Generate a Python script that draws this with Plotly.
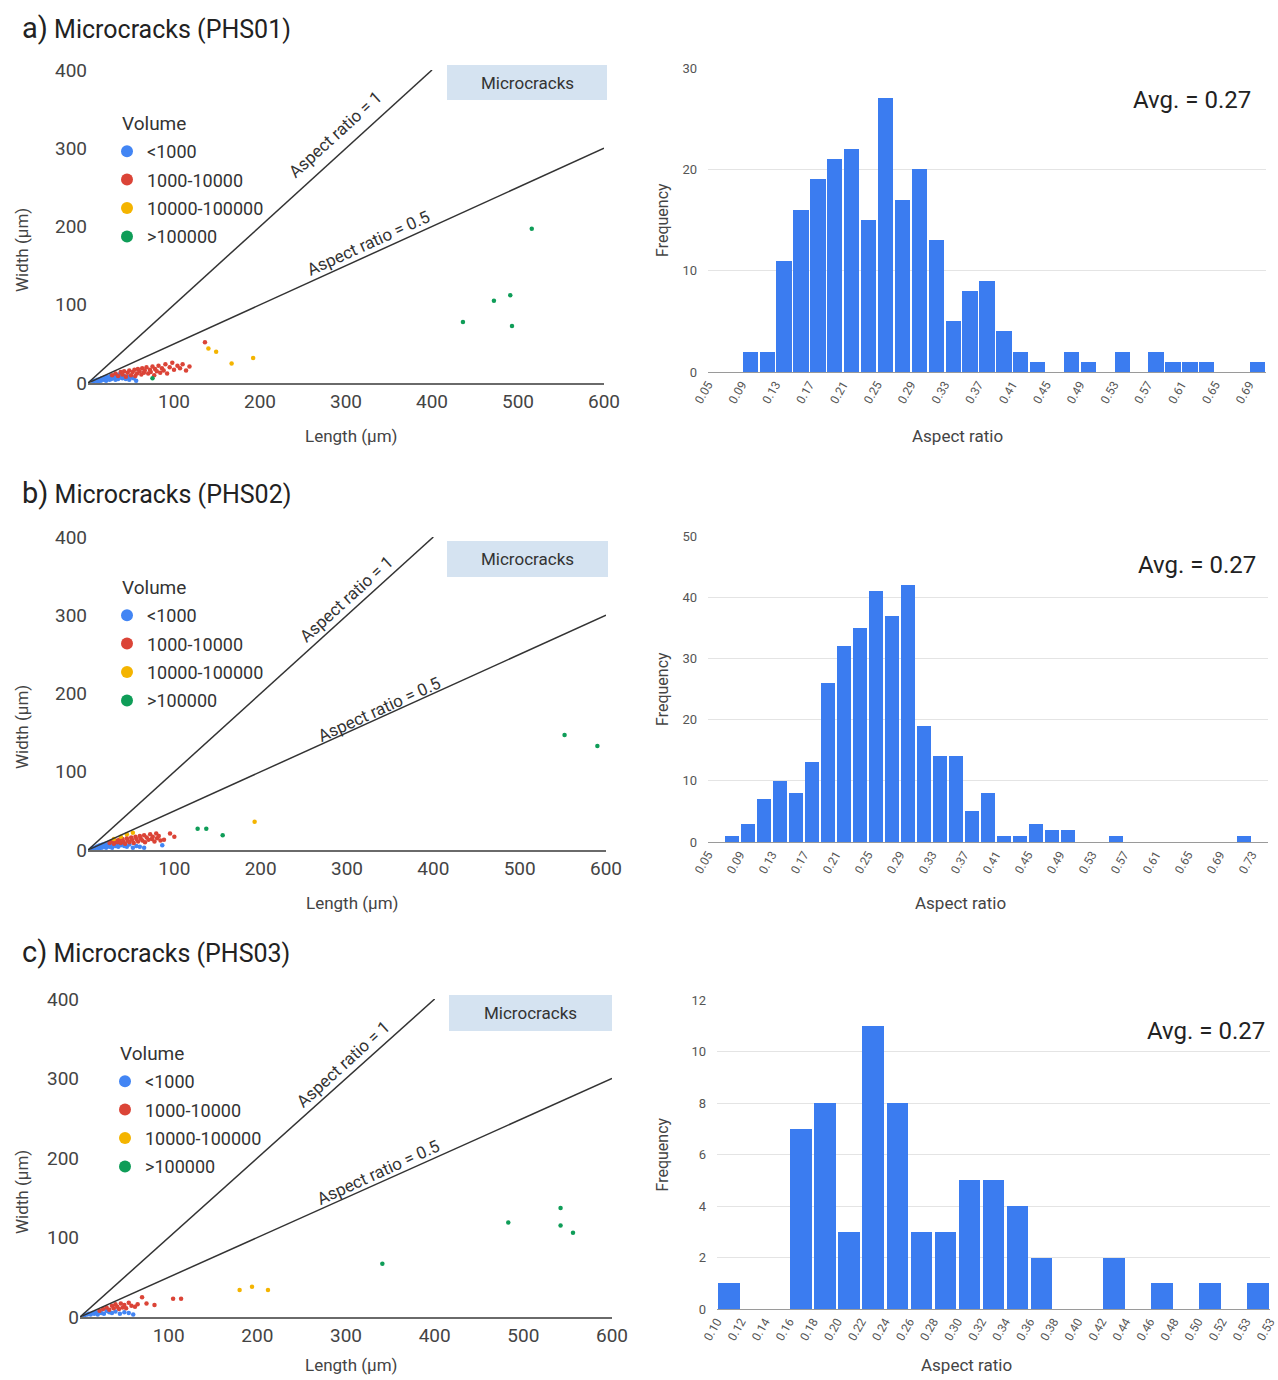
import plotly.graph_objects as go

W, H = 1278, 1380

# ---------------- data ----------------
VOLUME_CLASSES = ["<1000", "1000-10000", "10000-100000", ">100000"]
VOLUME_COLORS = ["#4285F4", "#DB4437", "#F4B400", "#0F9D58"]

# Panel a (PHS01) scatter: length (um), width (um)
A_blue_len = [6, 8, 10, 11, 12, 14, 15, 16, 18, 19, 20, 21, 22, 24, 25, 26, 27, 28, 30, 31, 32, 34, 35, 36, 38, 40, 42, 44, 46, 48, 50, 53, 56]
A_blue_wid = [2, 3, 3, 4, 2, 5, 3, 6, 4, 7, 5, 3, 8, 6, 4, 9, 5, 7, 6, 10, 4, 8, 5, 11, 7, 6, 9, 5, 8, 4, 7, 6, 3]
A_red_len = [28, 32, 35, 38, 40, 42, 44, 46, 48, 50, 52, 54, 55, 57, 58, 60, 62, 63, 65, 66, 68, 70, 72, 73, 75, 77, 78, 80, 82, 84, 86, 88, 90, 92, 95, 98, 100, 104, 107, 110, 114, 118, 136]
A_red_wid = [10, 12, 9, 14, 11, 15, 8, 13, 16, 10, 14, 17, 9, 12, 18, 15, 11, 19, 13, 16, 20, 12, 17, 14, 21, 10, 18, 15, 22, 13, 19, 16, 24, 12, 20, 26, 17, 22, 19, 24, 16, 21, 52]
A_yel_len = [140, 149, 167, 192]
A_yel_wid = [44, 40, 25, 32]
A_grn_len = [75, 436, 472, 491, 493, 516]
A_grn_wid = [6, 78, 105, 112, 73, 197]

# Panel b (PHS02) scatter
B_blue_len = [5, 7, 8, 10, 11, 12, 13, 14, 15, 16, 17, 18, 19, 20, 21, 22, 23, 24, 25, 26, 27, 28, 29, 30, 32, 33, 35, 36, 38, 40, 42, 45, 48, 52, 56, 60, 65, 86]
B_blue_wid = [2, 3, 2, 4, 3, 5, 2, 6, 4, 3, 7, 5, 4, 8, 3, 6, 9, 5, 4, 7, 10, 3, 6, 8, 5, 11, 4, 7, 6, 9, 5, 4, 7, 3, 5, 4, 3, 6]
B_red_len = [25, 28, 30, 32, 34, 36, 38, 40, 41, 43, 45, 46, 48, 50, 51, 53, 55, 56, 58, 60, 61, 63, 65, 66, 68, 70, 72, 74, 75, 77, 79, 80, 82, 84, 88, 95, 100]
B_red_wid = [9, 11, 8, 12, 10, 13, 9, 14, 11, 8, 15, 12, 10, 16, 13, 9, 17, 14, 11, 18, 15, 12, 19, 10, 16, 13, 20, 14, 17, 11, 21, 15, 18, 12, 13, 21, 17]
B_yel_len = [30, 38, 45, 52, 193]
B_yel_wid = [14, 17, 20, 22, 36]
B_grn_len = [127, 137, 156, 552, 590, 617]
B_grn_wid = [27, 27, 19, 147, 133, 193]

# Panel c (PHS03) scatter
C_blue_len = [5, 8, 10, 12, 14, 16, 18, 20, 22, 24, 27, 30, 33, 36, 40, 45, 50, 55, 60]
C_blue_wid = [2, 3, 4, 3, 5, 4, 6, 3, 7, 5, 4, 8, 6, 5, 7, 4, 6, 5, 3]
C_red_len = [22, 26, 30, 33, 36, 38, 40, 42, 44, 46, 48, 50, 52, 55, 58, 62, 65, 70, 75, 84, 105, 114]
C_red_wid = [8, 10, 12, 9, 14, 11, 16, 13, 10, 17, 12, 15, 11, 18, 14, 13, 16, 25, 17, 15, 23, 23]
C_yel_len = [180, 194, 212]
C_yel_wid = [34, 38, 34]
C_grn_len = [341, 483, 542, 542, 556]
C_grn_wid = [67, 119, 137, 115, 106]

# Reference lines (aspect ratio): endpoints
AR1_len = [0, 400]
AR1_wid = [0, 400]
AR05_len = [0, 600]
AR05_wid = [0, 300]

# Histograms of aspect ratio (bins of 0.02)
A_bin_start, B_bin_start, C_bin_start = 0.05, 0.05, 0.10
BIN_W = 0.02
A_counts = [0, 0, 2, 2, 11, 16, 19, 21, 22, 15, 27, 17, 20, 13, 5, 8, 9, 4, 2, 1, 0, 2, 1, 0, 2, 0, 2, 1, 1, 1, 0, 0, 1]
B_counts = [0, 1, 3, 7, 10, 8, 13, 26, 32, 35, 41, 37, 42, 19, 14, 14, 5, 8, 1, 1, 3, 2, 2, 0, 0, 1, 0, 0, 0, 0, 0, 0, 0, 1, 0]
C_counts = [1, 0, 0, 7, 8, 3, 11, 8, 3, 3, 5, 5, 4, 2, 0, 0, 2, 0, 1, 0, 1, 0, 1]

A_ticklabels = ["0.05", "0.09", "0.13", "0.17", "0.21", "0.25", "0.29", "0.33", "0.37", "0.41", "0.45", "0.49", "0.53", "0.57", "0.61", "0.65", "0.69"]
B_ticklabels = ["0.05", "0.09", "0.13", "0.17", "0.21", "0.25", "0.29", "0.33", "0.37", "0.41", "0.45", "0.49", "0.53", "0.57", "0.61", "0.65", "0.69", "0.73"]
C_ticklabels = ["0.10", "0.12", "0.14", "0.16", "0.18", "0.20", "0.22", "0.24", "0.26", "0.28", "0.30", "0.32", "0.34", "0.36", "0.38", "0.40", "0.42", "0.44", "0.46", "0.48", "0.50", "0.52", "0.53", "0.53"]

AVG_TEXT = ["Avg. = 0.27", "Avg. = 0.27", "Avg. = 0.27"]
TITLES = [("a)", "Microcracks (PHS01)"), ("b)", "Microcracks (PHS02)"), ("c)", "Microcracks (PHS03)")]

# ---------------- layout helpers ----------------
def fx(px):
    return px / W

def fy(py):
    return 1 - py / H

FONT = "Roboto, 'Open Sans', sans-serif"
BAR_COLOR = "#3b7cf0"

fig = go.Figure()

panels = [
    dict(sx=(88, 604), sy=(70, 383), hx=(708, 1266), hy=(68, 372),
         scatter=[(A_blue_len, A_blue_wid), (A_red_len, A_red_wid), (A_yel_len, A_yel_wid), (A_grn_len, A_grn_wid)],
         counts=A_counts, start=A_bin_start, ticks=A_ticklabels, tstep=2, hmax=30, hdtick=10,
         title_y=28, box=(447, 607, 65, 100), vol_xy=(120, 123), leg_top=133,
         ar1=(288, 318), ar05=(326, 179), xlab_y=436, wid_y=250, hlab_x=957, avg=(1253, 100)),
    dict(sx=(88, 606), sy=(537, 850), hx=(708, 1268), hy=(536, 842),
         scatter=[(B_blue_len, B_blue_wid), (B_red_len, B_red_wid), (B_yel_len, B_yel_wid), (B_grn_len, B_grn_wid)],
         counts=B_counts, start=B_bin_start, ticks=B_ticklabels, tstep=2, hmax=50, hdtick=10,
         title_y=493, box=(447, 608, 541, 577), vol_xy=(120, 587), leg_top=597,
         ar1=(299, 321), ar05=(338, 180), xlab_y=903, wid_y=727, hlab_x=960, avg=(1258, 565)),
    dict(sx=(80, 612), sy=(999, 1317), hx=(717, 1270), hy=(1000, 1309),
         scatter=[(C_blue_len, C_blue_wid), (C_red_len, C_red_wid), (C_yel_len, C_yel_wid), (C_grn_len, C_grn_wid)],
         counts=C_counts, start=C_bin_start, ticks=C_ticklabels, tstep=1, hmax=12, hdtick=2,
         title_y=952, box=(449, 612, 995, 1031), vol_xy=(118, 1053), leg_top=1063,
         ar1=(297, 318), ar05=(337, 182), xlab_y=1365, wid_y=1192, hlab_x=966, avg=(1267, 1031)),
]

layout = dict(
    width=W, height=H, margin=dict(l=0, r=0, t=0, b=0, autoexpand=False),
    paper_bgcolor="white", plot_bgcolor="white",
    font=dict(family=FONT, color="#333"),
    barmode="overlay", showlegend=True,
)
annotations = []
shapes = []

def ann(x, y, text, size, color="#333", angle=0, xanchor="center", yanchor="middle", xref="paper", yref="paper"):
    return dict(x=x, y=y, xref=xref, yref=yref, xanchor=xanchor, yanchor=yanchor,
                showarrow=False, text=text, textangle=angle,
                font=dict(size=size, color=color, family=FONT))

for i, p in enumerate(panels):
    n = i + 1
    sxa = "x" if n == 1 else f"x{2*n-1}"
    sya = "y" if n == 1 else f"y{2*n-1}"
    hxa = f"x{2*n}"
    hya = f"y{2*n}"
    leg = "legend" if n == 1 else f"legend{n}"

    # scatter points
    for k, (lx, wy) in enumerate(p["scatter"]):
        fig.add_trace(go.Scatter(
            x=lx, y=wy, mode="markers", xaxis=sxa, yaxis=sya,
            name=VOLUME_CLASSES[k], legend=leg, legendgroup=f"g{n}{k}",
            marker=dict(size=4.5, color=VOLUME_COLORS[k]), cliponaxis=False,
        ))
    # aspect ratio lines
    for lx, wy in [(AR1_len, AR1_wid), (AR05_len, AR05_wid)]:
        fig.add_trace(go.Scatter(
            x=lx, y=wy, mode="lines", xaxis=sxa, yaxis=sya, showlegend=False,
            line=dict(color="#333333", width=1.5), cliponaxis=False, hoverinfo="skip",
        ))
    # histogram bars
    counts = p["counts"]
    centers = [p["start"] + BIN_W * (j + 0.5) for j in range(len(counts))]
    fig.add_trace(go.Bar(
        x=centers, y=counts, width=BIN_W * 0.9, xaxis=hxa, yaxis=hya,
        marker=dict(color=BAR_COLOR, line=dict(width=0)), showlegend=False,
    ))

    edges = [p["start"] + BIN_W * j * p["tstep"] for j in range(len(p["ticks"]))]
    x_lo = p["start"]
    x_hi = p["start"] + BIN_W * len(counts)

    sx0, sx1 = p["sx"]; sy0, sy1 = p["sy"]
    hx0, hx1 = p["hx"]; hy0, hy1 = p["hy"]

    sx_key = "xaxis" if n == 1 else f"xaxis{2*n-1}"
    sy_key = "yaxis" if n == 1 else f"yaxis{2*n-1}"
    layout[sx_key] = dict(
        domain=[fx(sx0), fx(sx1)], anchor=sya, range=[0, 600], automargin=False,
        tickvals=[100, 200, 300, 400, 500, 600], showgrid=False, zeroline=False,
        showline=True, linecolor="#6a6a6a", linewidth=1.5, ticks="",
        tickfont=dict(size=19, color="#444"), fixedrange=True,
    )
    layout[sy_key] = dict(
        domain=[fy(sy1), fy(sy0)], anchor=sxa, range=[0, 400], automargin=False,
        tickvals=[0, 100, 200, 300, 400], showgrid=False, zeroline=False,
        showline=False, ticks="", tickfont=dict(size=19, color="#444"),
        ticklabelstandoff=0, fixedrange=True,
    )
    layout[f"xaxis{2*n}"] = dict(
        domain=[fx(hx0), fx(hx1)], anchor=hya, range=[x_lo, x_hi], automargin=False,
        tickvals=edges, ticktext=p["ticks"], tickangle=-60,
        showgrid=False, zeroline=False, showline=True, linecolor="#9a9a9a", linewidth=1,
        ticks="", tickfont=dict(size=12, color="#555"), fixedrange=True,
    )
    layout[f"yaxis{2*n}"] = dict(
        domain=[fy(hy1), fy(hy0)], anchor=hxa, range=[0, p["hmax"]], automargin=False,
        dtick=p["hdtick"], showgrid=True, gridcolor="#e4e4e4", gridwidth=1,
        zeroline=False, showline=False, ticks="", tickfont=dict(size=13, color="#555"),
        ticklabelstandoff=10, fixedrange=True,
    )

    # legend (title drawn as annotation)
    vx, vy = p["vol_xy"]
    layout[leg] = dict(
        x=fx(vx - 13), y=fy(p["leg_top"]), xanchor="left", yanchor="top",
        font=dict(size=18, color="#333"), bgcolor="rgba(0,0,0,0)",
        itemsizing="constant", tracegroupgap=2, traceorder="grouped",
    )
    annotations.append(ann(fx(vx), fy(vy), "Volume", 19, xanchor="left"))

    # panel title
    annotations.append(ann(
        fx(20), fy(p["title_y"]),
        f"<span style='font-size:29px'>{TITLES[i][0]}</span> <span style='font-size:25px'>{TITLES[i][1]}</span>",
        25, color="#222", xanchor="left"))
    # microcracks box
    bx0, bx1, by0, by1 = p["box"]
    shapes.append(dict(type="rect", xref="paper", yref="paper",
                       x0=fx(bx0), x1=fx(bx1), y0=fy(by1), y1=fy(by0),
                       fillcolor="#d5e3f1", line=dict(width=0), layer="below"))
    annotations.append(ann(fx((bx0 + bx1) / 2), fy((by0 + by1) / 2), "Microcracks", 17))
    # aspect ratio labels
    annotations.append(ann(p["ar1"][0], p["ar1"][1], "Aspect ratio = 1", 17, angle=-42.3, xref=sxa, yref=sya))
    annotations.append(ann(p["ar05"][0], p["ar05"][1], "Aspect ratio = 0.5", 17, angle=-24.5, xref=sxa, yref=sya))
    # scatter axis titles
    annotations.append(ann(fx(22), fy(p["wid_y"]), "Width (µm)", 17, color="#444", angle=-90))
    annotations.append(ann(fx((sx0 + sx1) / 2 + 5), fy(p["xlab_y"]), "Length (µm)", 17, color="#444"))
    # histogram axis titles
    annotations.append(ann(fx(662), fy((hy0 + hy1) / 2), "Frequency", 16, color="#444", angle=-90))
    annotations.append(ann(fx(p["hlab_x"]), fy(p["xlab_y"]), "Aspect ratio", 17, color="#444"))
    # average
    ax, ay = p["avg"]
    annotations.append(ann(fx(ax), fy(ay), AVG_TEXT[i], 24, color="#222", xanchor="right"))

layout["annotations"] = annotations
layout["shapes"] = shapes
layout["bargap"] = 0
fig.update_layout(**layout)

fig.write_html("out.html")
